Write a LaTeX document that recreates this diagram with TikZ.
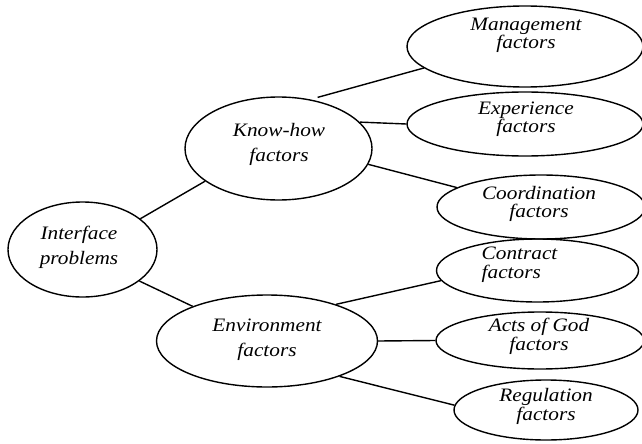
\documentclass[tikz,border=0pt]{standalone}
\usepackage{fontspec}
\newfontfamily\diagfont[FakeStretch=1.12]{Liberation Serif}
\usetikzlibrary{shapes.geometric}

\begin{document}
\begin{tikzpicture}[x=1pt,y=-1pt,
  bubble/.style={ellipse, draw, line width=1.4pt, inner sep=0pt},
  caption/.style={inner sep=0pt, align=center,
    font=\diagfont\itshape\fontsize{19}{18.5}\selectfont},
  widecaption/.style={caption,
    font=\diagfont\itshape\fontsize{19}{25}\selectfont},
  link/.style={line width=1.4pt}]

\useasboundingbox (0,0) rectangle (642,444);

% root and the two branch groups
\node[bubble, minimum width=149, minimum height=95] (ip) at (82.5,249.5) {};
\node[widecaption] (ip-t) at (79,247.5) {Interface\\problems};

\node[bubble, minimum width=187, minimum height=103] (kh) at (278.5,148.5) {};
\node[widecaption] (kh-t) at (279,144) {Know-how\\factors};

\node[bubble, minimum width=221, minimum height=92] (en) at (267,341) {};
\node[widecaption] (en-t) at (267,340) {Environment\\factors};

% know-how leaves
\node[bubble, minimum width=236, minimum height=81] (mg) at (525,46.5) {};
\node[caption] (mg-t) at (526,35.5) {Management\\factors};

\node[bubble, minimum width=236, minimum height=64] (ex) at (525,124) {};
\node[caption] (ex-t) at (526,119) {Experience\\factors};

\node[bubble, minimum width=208, minimum height=64] (co) at (541,207) {};
\node[caption] (co-t) at (539,204) {Coordination\\factors};

% environment leaves
\node[bubble, minimum width=202, minimum height=63] (ct) at (537.5,270.5) {};
\node[caption, align=left, anchor=west] (ct-t) at (481.5,264.5) {Contract\\factors};

\node[bubble, minimum width=208, minimum height=57] (ag) at (540,340.5) {};
\node[caption] (ag-t) at (539,336.5) {Acts of God\\factors};

\node[bubble, minimum width=184, minimum height=60] (rg) at (546,410) {};
\node[caption] (rg-t) at (546,406.5) {Regulation\\factors};

% connectors
\draw[link] (ip.28) -- (kh.204);
\draw[link] (ip.-29) -- (en.155);
\draw[link, shorten <=7.5pt] (kh.57) -- (mg.192);
\draw[link] (kh.18) -- (ex.west);
\draw[link] (kh.-10) -- (co.167);
\draw[link] (en.28) -- (ct.186);
\draw[link] (en.east) -- (ag.west);
\draw[link] (en.-26) -- (rg.177);
\end{tikzpicture}
\end{document}
